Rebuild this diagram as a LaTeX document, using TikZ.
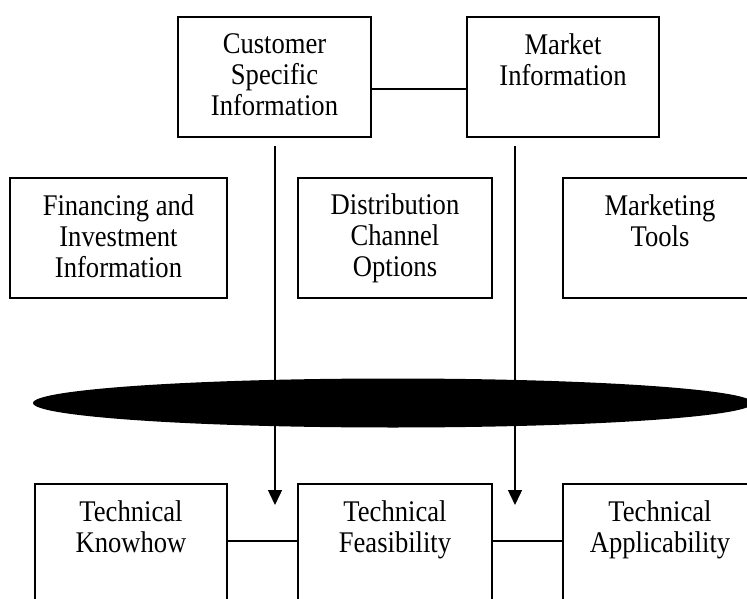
\documentclass[tikz,border=0pt]{standalone}
\usepackage{fontspec}
\setmainfont[FakeStretch=0.887]{Liberation Serif}
\usetikzlibrary{arrows.meta,shapes.geometric}

\tikzset{
    infobox/.style={draw, line width=1.8pt, align=center, inner sep=0pt,
        minimum width=194pt, minimum height=120pt,
        font=\fontsize{30}{31}\selectfont,
        execute at begin node={\rule{0pt}{26.5pt}},
        execute at end node={\rule[-4pt]{0pt}{4pt}}},
    link/.style={line width=1.4pt},
    flow/.style={line width=1.4pt, -{Triangle[length=15pt,width=14pt]}}
}

\begin{document}
\begin{tikzpicture}[x=1pt,y=-1pt]
        \useasboundingbox (0,0) rectangle (747,599);
        \clip (0,0) rectangle (747,599);

        % sources on top
        \node[infobox, minimum width=193pt] (cust) at (274.5,77) {Customer\\Specific\\Information};
        \node[infobox, minimum width=192pt] (market) at (563,77) {Market\\Information\\\mbox{}};
        \draw[link] ([yshift=-12pt]cust.east) -- ([yshift=-12pt]market.west);

        % side information
        \node[infobox, minimum width=217pt] (finance) at (118.5,238) {Financing and\\Investment\\Information};
        \node[infobox] (distrib) at (395,238) {Distribution\\Channel\\Options};
        \node[infobox] (mtools) at (660,238) {Marketing\\Tools\\\mbox{}};

        % the flows pass behind the disc
        \coordinate (custout) at (275,146);
        \coordinate (custin) at (275,505);
        \coordinate (marketout) at (515,146);
        \coordinate (marketin) at (515,505);
        \draw[flow] (custout) -- (custin);
        \draw[flow] (marketout) -- (marketin);
        \node[ellipse, fill=black, inner sep=0pt, minimum width=720pt, minimum height=49pt] (disc) at (393,403) {};

        % technical side
        \node[infobox, minimum width=192pt] (know) at (131,544) {Technical\\Knowhow\\\mbox{}};
        \node[infobox] (feas) at (395,544) {Technical\\Feasibility\\\mbox{}};
        \node[infobox] (applic) at (660,544) {Technical\\Applicability\\\mbox{}};
        \draw[link] ([yshift=3pt]know.east) -- ([yshift=3pt]feas.west);
        \draw[link] ([yshift=3pt]feas.east) -- ([yshift=3pt]applic.west);
\end{tikzpicture}
\end{document}
